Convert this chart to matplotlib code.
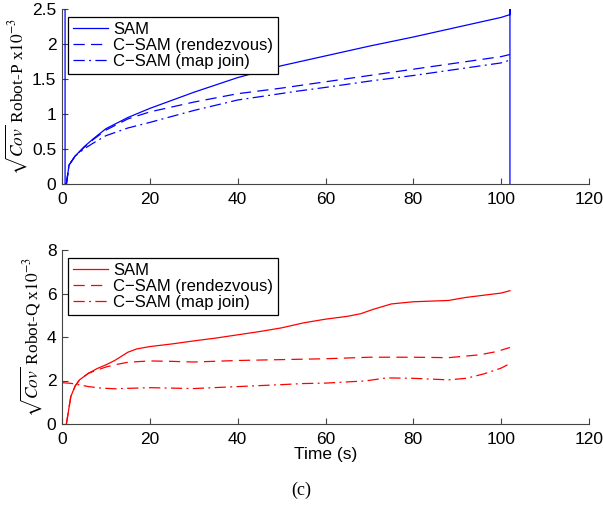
import matplotlib
matplotlib.use("Agg")
import matplotlib.pyplot as plt

plt.rcParams['mathtext.fontset'] = 'stix'
plt.rcParams['font.family'] = ['Liberation Sans', 'DejaVu Sans']

# ---- Robot-P (top) ----
p_sam_t = [0.7, 0.7, 1.0, 1.6, 3, 5, 7, 10, 15, 20, 30, 40, 50, 60, 70, 80, 90, 100, 102, 102, 102]
p_sam_y = [3.0, 0.0, 0.0, 0.27, 0.40, 0.53, 0.64, 0.79, 0.95, 1.08, 1.31, 1.52, 1.69, 1.83, 1.97, 2.10, 2.24, 2.38, 2.42, 3.0, 0.0]
p_ren_t = [1.0, 1.6, 3, 5, 7, 10, 15, 20, 30, 40, 50, 60, 70, 80, 90, 100, 102]
p_ren_y = [0.0, 0.27, 0.40, 0.52, 0.63, 0.77, 0.93, 1.03, 1.17, 1.29, 1.37, 1.46, 1.55, 1.64, 1.73, 1.82, 1.85]
p_map_t = [1.0, 1.6, 3, 5, 7, 10, 15, 20, 30, 40, 54, 60, 70, 80, 90, 100, 102]
p_map_y = [0.0, 0.27, 0.40, 0.50, 0.58, 0.69, 0.80, 0.88, 1.05, 1.20, 1.33, 1.38, 1.47, 1.55, 1.64, 1.73, 1.77]

# ---- Robot-Q (bottom) ----
q_sam_t = [1.0, 2, 3, 4, 6, 8, 10, 12, 15, 17, 20, 25, 30, 35, 40, 45, 50, 55, 60, 65, 68, 71, 75, 80, 88, 92, 100, 102]
q_sam_y = [0.0, 1.26, 1.75, 2.03, 2.33, 2.55, 2.72, 2.92, 3.30, 3.45, 3.56, 3.68, 3.82, 3.95, 4.10, 4.25, 4.42, 4.65, 4.82, 4.95, 5.07, 5.28, 5.52, 5.62, 5.68, 5.82, 6.02, 6.13]
q_ren_t = [1.0, 2, 3, 4, 6, 8, 10, 12, 15, 20, 25, 30, 40, 50, 60, 70, 80, 88, 95, 99, 102]
q_ren_y = [0.0, 1.26, 1.75, 2.03, 2.33, 2.48, 2.62, 2.72, 2.84, 2.90, 2.88, 2.85, 2.92, 2.96, 3.00, 3.07, 3.07, 3.05, 3.18, 3.33, 3.52]
q_map_t = [0.0, 2, 4, 6, 9, 12, 20, 30, 40, 50, 55, 60, 69, 74, 80, 88, 92, 96, 100, 102]
q_map_y = [1.90, 1.87, 1.80, 1.72, 1.65, 1.62, 1.67, 1.63, 1.72, 1.81, 1.86, 1.88, 1.98, 2.12, 2.10, 2.03, 2.10, 2.30, 2.57, 2.78]

labels = ['SAM', 'C\u2212SAM (rendezvous)', 'C\u2212SAM (map join)']
x_ticks = [0, 20, 40, 60, 80, 100, 120]
p_yticks = [0, 0.5, 1, 1.5, 2, 2.5]
p_yticklabels = ['0', '0.5', '1', '1.5', '2', '2.5']
q_yticks = [0, 2, 4, 6, 8]

fig = plt.figure(figsize=(6.03, 5.09), dpi=100)
W, H = 603, 509
axP = fig.add_axes([62 / W, 1 - 184 / H, 527 / W, 175 / H])
axQ = fig.add_axes([62 / W, 1 - 424 / H, 527 / W, 174 / H])

lw = 0.9
dash = (9, 5)
dashdot = (9, 3.5, 1.5, 3.5)
axis_color = '#444444'

def style(ax, yt, ytl, ylim, ylabel):
    for s in ['top', 'right']:
        ax.spines[s].set_visible(False)
    for s in ['left', 'bottom']:
        ax.spines[s].set_color(axis_color)
        ax.spines[s].set_linewidth(0.8)
    ax.set_xlim(0, 120)
    ax.set_ylim(*ylim)
    ax.set_xticks(x_ticks)
    ax.set_yticks(yt)
    ax.set_yticklabels(ytl)
    ax.tick_params(direction='in', length=4, width=0.8, color=axis_color, labelsize=12.5)
    ax.tick_params(axis='x', pad=6)
    ax.tick_params(axis='y', pad=4)
    ax.set_ylabel(ylabel, fontsize=12.5, family=['Liberation Serif', 'DejaVu Serif'], labelpad=2)
    leg = ax.legend(loc='upper left', bbox_to_anchor=(6 / 527, 1 - 8 / 175), borderaxespad=0,
                    fontsize=12, frameon=True, fancybox=False, framealpha=1, edgecolor='black',
                    labelspacing=0.05, handlelength=2.1, handletextpad=0.3, borderpad=0.3)
    leg.get_frame().set_linewidth(0.9)

color = 'blue'
axP.plot(p_sam_t, p_sam_y, color=color, lw=lw, label=labels[0])
axP.plot(p_ren_t, p_ren_y, color=color, lw=lw, dashes=dash, label=labels[1])
axP.plot(p_map_t, p_map_y, color=color, lw=lw, dashes=dashdot, label=labels[2])
style(axP, p_yticks, p_yticklabels, (0, 2.5), r'$\sqrt{Cov}$ Robot-P x$10^{-3}$')

color = 'red'
axQ.plot(q_sam_t, q_sam_y, color=color, lw=lw, label=labels[0])
axQ.plot(q_ren_t, q_ren_y, color=color, lw=lw, dashes=dash, label=labels[1])
axQ.plot(q_map_t, q_map_y, color=color, lw=lw, dashes=dashdot, label=labels[2])
style(axQ, q_yticks, [str(v) for v in q_yticks], (0, 8), r'$\sqrt{Cov}$ Robot-Q x$10^{-3}$')
axQ.set_xlabel('Time (s)', fontsize=12.5, labelpad=0)

fig.text(301 / W, 1 - 490 / H, '(c)', ha='center', va='center', fontsize=13,
         family=['Liberation Serif', 'DejaVu Serif'])

fig.savefig('out.png', dpi=100)
